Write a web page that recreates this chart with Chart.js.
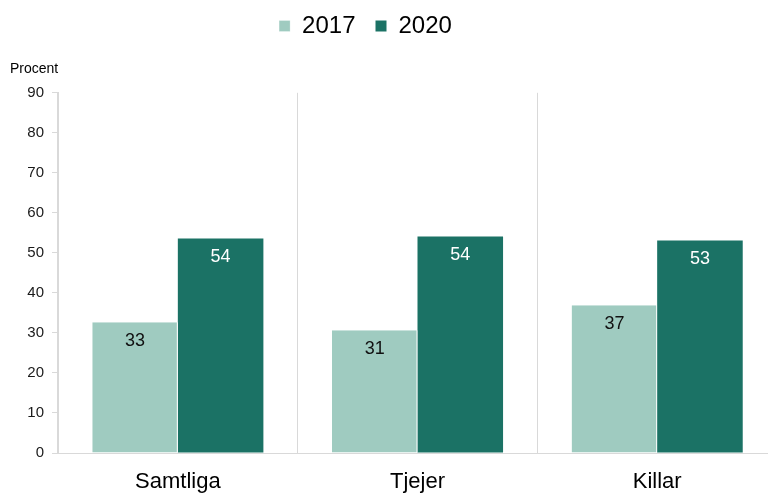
<!DOCTYPE html>
<html>
<head>
<meta charset="utf-8">
<script src="https://cdn.jsdelivr.net/npm/chart.js@4.4.1/dist/chart.umd.min.js"></script>
<style>
  html, body { margin: 0; padding: 0; background: #fff; overflow: hidden; }
  #wrap { width: 768px; height: 493px; overflow: hidden; }
  #chart { display: block; }
</style>
</head>
<body>
<div id="wrap"><canvas id="chart" width="790" height="493"></canvas></div>
<script>
// data
const categories = ['Samtliga', 'Tjejer', 'Killar'];
const seriesNames = ['2017', '2020'];
const values2017 = [32.7, 30.7, 36.9];
const values2020 = [53.6, 54.1, 53.1];
const yMin = 0;
const yMax = 90;
const yStep = 10;

const FONT = '"Liberation Sans", Arial, sans-serif';

// value labels drawn inside the top of each bar
const barLabels = {
  id: 'barLabels',
  afterDatasetsDraw(chart) {
    const ctx = chart.ctx;
    chart.data.datasets.forEach((ds, i) => {
      const meta = chart.getDatasetMeta(i);
      meta.data.forEach((bar, j) => {
        ctx.save();
        ctx.font = '18px ' + FONT;
        ctx.fillStyle = ds.labelColor;
        ctx.textAlign = 'center';
        ctx.textBaseline = 'middle';
        ctx.fillText(Math.round(ds.data[j]), bar.x, bar.y + 19);
        ctx.restore();
      });
    });
  }
};

// nudge legend and "Procent" title to where they sit in the original
const nudge = {
  id: 'nudge',
  afterLayout(chart) {
    const lg = chart.legend;
    lg.left -= 28; lg.right -= 28;
    lg.top -= 6; lg.bottom -= 6;
    const t = chart.titleBlock;
    t.top += 7; t.bottom += 7;
  }
};

const ctx = document.getElementById('chart').getContext('2d');
new Chart(ctx, {
  type: 'bar',
  data: {
    labels: categories,
    datasets: [
      {
        label: seriesNames[0],
        data: values2017,
        backgroundColor: '#9fcbc0',
        borderColor: '#ffffff',
        borderWidth: { top: 0, left: 0, bottom: 0, right: 1 },
        labelColor: '#111111'
      },
      {
        label: seriesNames[1],
        data: values2020,
        backgroundColor: '#1b7265',
        borderWidth: 0,
        labelColor: '#ffffff'
      }
    ]
  },
  options: {
    responsive: false,
    animation: false,
    devicePixelRatio: 1,
    categoryPercentage: 0.714,
    barPercentage: 1.0,
    layout: { padding: { left: 10, right: 13, top: 0, bottom: 0 } },
    scales: {
      x: {
        afterFit: (scale) => { scale.height = 40; },
        grid: { color: '#d9d9d9', drawTicks: false, offset: true },
        border: { color: '#d9d9d9' },
        ticks: { font: { family: FONT, size: 22 }, color: '#000', padding: 16 }
      },
      y: {
        min: yMin,
        max: yMax,
        afterFit: (scale) => { scale.width = 48; },
        grid: { drawOnChartArea: false, drawTicks: true, tickLength: 6, color: '#d9d9d9' },
        border: { color: '#d9d9d9' },
        ticks: { stepSize: yStep, font: { family: FONT, size: 15 }, color: '#1a1a1a', padding: 8 }
      }
    },
    plugins: {
      legend: {
        position: 'top',
        labels: {
          font: { family: FONT, size: 24 },
          color: '#000',
          boxWidth: 11,
          boxHeight: 11,
          padding: 20
        }
      },
      title: {
        display: true,
        text: 'Procent',
        align: 'start',
        weight: 500,
        font: { family: FONT, size: 14, weight: 'normal' },
        color: '#000',
        padding: { top: 0, bottom: 22 }
      },
      tooltip: { enabled: false }
    }
  },
  plugins: [barLabels, nudge]
});
</script>
</body>
</html>
